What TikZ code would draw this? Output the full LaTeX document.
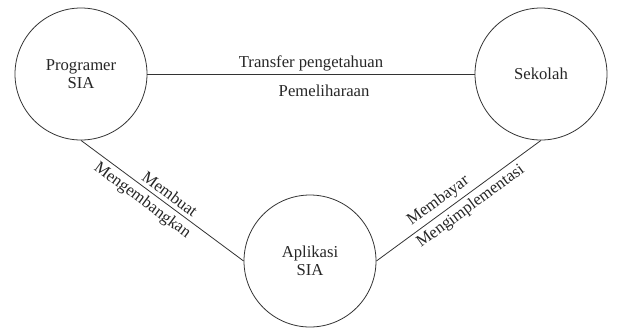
\documentclass[tikz,border=0pt]{standalone}
\usepackage{fontspec}
\setmainfont{Liberation Serif}[Ligatures=TeX]
\usepackage{tikz}
\usetikzlibrary{arrows,shapes,positioning}

\begin{document}
\begin{tikzpicture}[x=0.75pt,y=0.75pt]
                    \tikzstyle{every node}+=[font=\rmfamily\fontsize{12.5}{13.8}\selectfont, text=black!85, inner sep=1pt]
                    \tikzstyle{actor}=[draw=black!80, line width=0.6pt, circle, inner sep=0pt, minimum size=99pt, align=center]
                    \tikzstyle{relasi}=[draw=black!80, line width=0.6pt]
                    \useasboundingbox (0,0) rectangle (617,-329);
                    \node [actor] (prog) at (81,-74) {Programer\\SIA};
                    \node [actor] (sek) at (541,-74) {Sekolah};
                    \node [actor] (apl) at (310,-261) {Aplikasi\\SIA};
                    \draw [relasi] (prog.east) -- (sek.west)
                        node [midway, above=1pt] {Transfer pengetahuan}
                        node [pos=0.54, below=7pt] {Pemeliharaan};
                    \draw [relasi] (prog.south) -- (apl.west)
                        node [pos=0.51, sloped, above=2pt] {Membuat}
                        node [pos=0.42, sloped, below=2pt] {Mengembangkan};
                    \draw [relasi] (apl.east) -- (sek.south)
                        node [pos=0.42, sloped, above=2pt] {Membayar}
                        node [pos=0.53, sloped, below=2pt] {Mengimplementasi};
                \end{tikzpicture}
\end{document}
